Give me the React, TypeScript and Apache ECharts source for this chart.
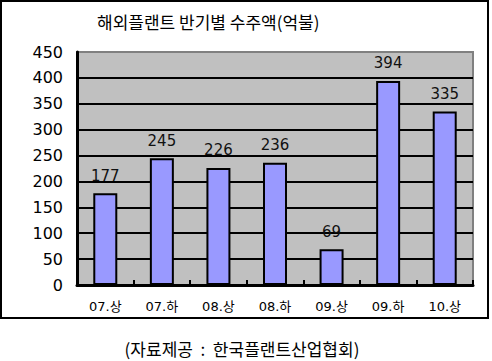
import React, { useEffect, useRef } from "react";
import * as echarts from "echarts";

const categories = ["07.상", "07.하", "08.상", "08.하", "09.상", "09.하", "10.상"];
const values = [177, 245, 226, 236, 69, 394, 335];
const titleText = "해외플랜트 반기별 수주액(억불)";
const captionText = "(자료제공  :  한국플랜트산업협회)";

const FONT = "'DejaVu Sans', 'Noto Sans CJK KR', sans-serif";
const KFONT = "'Noto Sans CJK KR', sans-serif";

export default function App() {
  const ref = useRef<HTMLDivElement>(null);
  useEffect(() => {
    document.body.style.margin = "0";
    const chart = echarts.init(ref.current!, null, { renderer: "svg" });
    chart.setOption({
      animation: false,
      backgroundColor: "#ffffff",
      title: {
        text: titleText,
        left: 92,
        top: 8,
        textStyle: { fontFamily: KFONT, fontSize: 17, fontWeight: "normal", color: "#000" },
      },
      grid: {
        left: 77,
        top: 52,
        right: 19,
        bottom: 76,
        show: true,
        backgroundColor: "#c0c0c0",
        borderColor: "#808080",
        borderWidth: 2,
      },
      xAxis: {
        type: "category",
        data: categories,
        axisLine: { lineStyle: { color: "#000", width: 3 } },
        axisTick: { show: true, inside: true, length: 5, lineStyle: { color: "#000", width: 2 } },
        axisLabel: { fontFamily: FONT, fontSize: 13, color: "#000", margin: 15 },
      },
      yAxis: {
        type: "value",
        min: 0,
        max: 450,
        interval: 50,
        axisLine: { show: true, lineStyle: { color: "#000", width: 3 } },
        axisTick: { show: false },
        axisLabel: { fontFamily: FONT, fontSize: 16, color: "#000", margin: 14 },
        splitLine: {
          lineStyle: {
            color: ["#000", "#000", "#000", "#000", "#000", "#000", "#000", "#000", "#000", "#808080"],
            width: 2,
          },
        },
      },
      series: [
        {
          type: "bar",
          data: values,
          barWidth: 24,
          itemStyle: { color: "#9999ff", borderColor: "#000", borderWidth: 2 },
          label: {
            show: true,
            position: "top",
            distance: 10,
            fontFamily: FONT,
            fontSize: 15,
            color: "#111",
          },
        },
      ],
      graphic: [
        {
          type: "rect",
          shape: { x: 1, y: 1, width: 487, height: 317 },
          style: { fill: "none", stroke: "#000", lineWidth: 2 },
          silent: true,
        },
        {
          type: "text",
          x: 242,
          y: 348,
          style: {
            text: captionText,
            fontFamily: KFONT,
            fontSize: 17,
            fill: "#000",
            align: "center",
            verticalAlign: "middle",
          },
        },
      ],
    });
    return () => chart.dispose();
  }, []);
  return <div ref={ref} style={{ width: 492, height: 361 }} />;
}
